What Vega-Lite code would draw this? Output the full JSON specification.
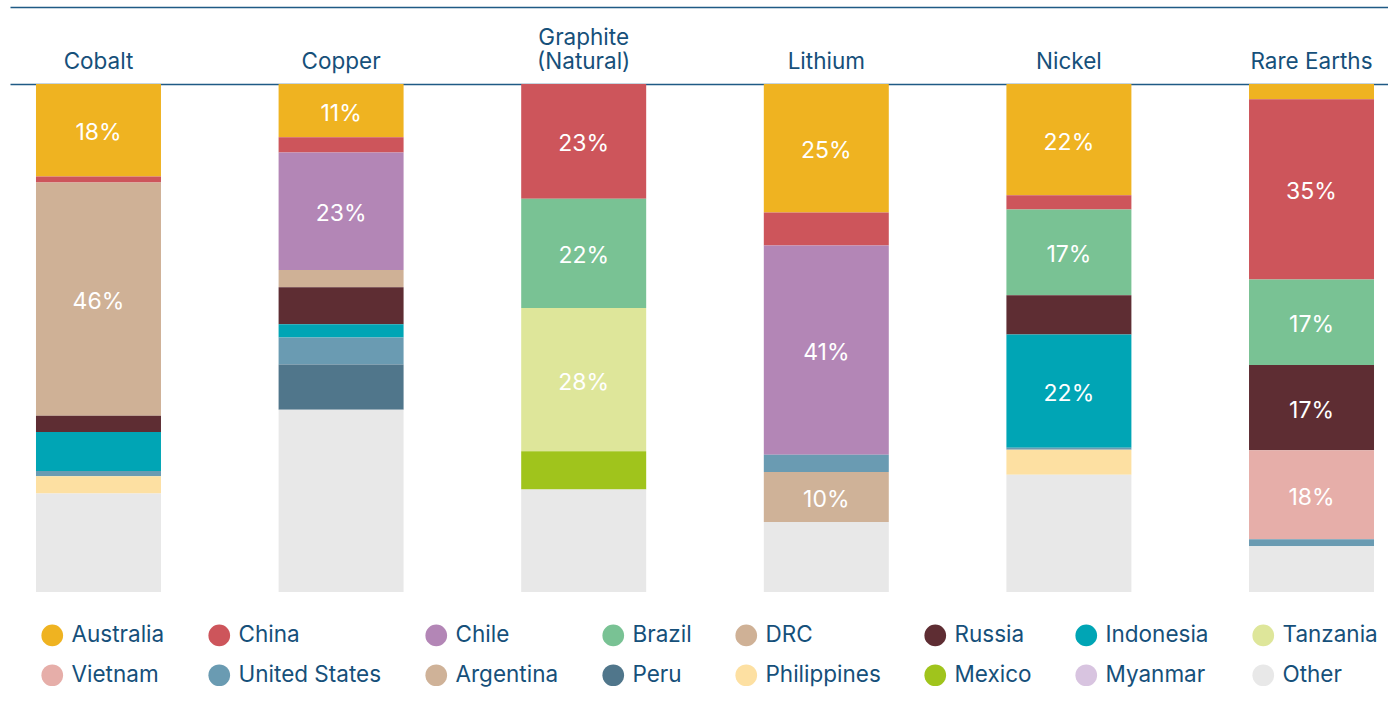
{
  "$schema": "https://vega.github.io/schema/vega-lite/v6.json",
  "autosize": "none",
  "width": 1378,
  "height": 508,
  "padding": {"left": 10, "top": 84, "right": 0, "bottom": 114},
  "background": "white",
  "config": {
    "view": {"stroke": null},
    "font": "Inter"
  },
  "data": {
    "values": [
      {"mineral": "Cobalt", "country": "Australia", "share": 18.2, "label": "18%"},
      {"mineral": "Cobalt", "country": "China", "share": 1.2, "label": ""},
      {"mineral": "Cobalt", "country": "DRC", "share": 45.9, "label": "46%"},
      {"mineral": "Cobalt", "country": "Russia", "share": 3.2, "label": ""},
      {"mineral": "Cobalt", "country": "Indonesia", "share": 7.7, "label": ""},
      {"mineral": "Cobalt", "country": "United States", "share": 1.0, "label": ""},
      {"mineral": "Cobalt", "country": "Philippines", "share": 3.4, "label": ""},
      {"mineral": "Cobalt", "country": "Other", "share": 19.4, "label": ""},
      {"mineral": "Copper", "country": "Australia", "share": 10.5, "label": "11%"},
      {"mineral": "Copper", "country": "China", "share": 3.0, "label": ""},
      {"mineral": "Copper", "country": "Chile", "share": 23.1, "label": "23%"},
      {"mineral": "Copper", "country": "DRC", "share": 3.4, "label": ""},
      {"mineral": "Copper", "country": "Russia", "share": 7.3, "label": ""},
      {"mineral": "Copper", "country": "Indonesia", "share": 2.6, "label": ""},
      {"mineral": "Copper", "country": "United States", "share": 5.3, "label": ""},
      {"mineral": "Copper", "country": "Peru", "share": 8.9, "label": ""},
      {"mineral": "Copper", "country": "Other", "share": 35.9, "label": ""},
      {"mineral": "Graphite (Natural)", "country": "China", "share": 22.6, "label": "23%"},
      {"mineral": "Graphite (Natural)", "country": "Brazil", "share": 21.5, "label": "22%"},
      {"mineral": "Graphite (Natural)", "country": "Tanzania", "share": 28.2, "label": "28%"},
      {"mineral": "Graphite (Natural)", "country": "Mexico", "share": 7.5, "label": ""},
      {"mineral": "Graphite (Natural)", "country": "Other", "share": 20.2, "label": ""},
      {"mineral": "Lithium", "country": "Australia", "share": 25.3, "label": "25%"},
      {"mineral": "Lithium", "country": "China", "share": 6.5, "label": ""},
      {"mineral": "Lithium", "country": "Chile", "share": 41.2, "label": "41%"},
      {"mineral": "Lithium", "country": "United States", "share": 3.4, "label": ""},
      {"mineral": "Lithium", "country": "Argentina", "share": 9.8, "label": "10%"},
      {"mineral": "Lithium", "country": "Other", "share": 13.8, "label": ""},
      {"mineral": "Nickel", "country": "Australia", "share": 21.9, "label": "22%"},
      {"mineral": "Nickel", "country": "China", "share": 2.8, "label": ""},
      {"mineral": "Nickel", "country": "Brazil", "share": 16.9, "label": "17%"},
      {"mineral": "Nickel", "country": "Russia", "share": 7.7, "label": ""},
      {"mineral": "Nickel", "country": "Indonesia", "share": 22.3, "label": "22%"},
      {"mineral": "Nickel", "country": "United States", "share": 0.4, "label": ""},
      {"mineral": "Nickel", "country": "Philippines", "share": 4.9, "label": ""},
      {"mineral": "Nickel", "country": "Other", "share": 23.1, "label": ""},
      {"mineral": "Rare Earths", "country": "Australia", "share": 3.0, "label": ""},
      {"mineral": "Rare Earths", "country": "China", "share": 35.5, "label": "35%"},
      {"mineral": "Rare Earths", "country": "Brazil", "share": 16.8, "label": "17%"},
      {"mineral": "Rare Earths", "country": "Russia", "share": 16.8, "label": "17%"},
      {"mineral": "Rare Earths", "country": "Vietnam", "share": 17.5, "label": "18%"},
      {"mineral": "Rare Earths", "country": "United States", "share": 1.4, "label": ""},
      {"mineral": "Rare Earths", "country": "Other", "share": 9.0, "label": ""}
    ]
  },
  "transform": [
    {"calculate": "indexof(['Australia', 'China', 'Chile', 'Brazil', 'DRC', 'Russia', 'Indonesia', 'Tanzania', 'Vietnam', 'United States', 'Argentina', 'Peru', 'Philippines', 'Mexico', 'Myanmar', 'Other'], datum.country)", "as": "rank"},
    {"stack": "share", "groupby": ["mineral"], "sort": [{"field": "rank", "order": "ascending"}], "offset": "normalize", "as": ["y0", "y1"]},
    {"calculate": "(datum.y0 + datum.y1) / 2", "as": "ymid"}
  ],
  "encoding": {
    "x": {
      "field": "mineral",
      "type": "nominal",
      "sort": null,
      "scale": {"paddingInner": 0.4848, "paddingOuter": 0.0824, "align": 0.65},
      "title": null
    }
  },
  "layer": [
    {
      "mark": {"type": "bar"},
      "encoding": {
        "x": {
          "field": "mineral",
          "type": "nominal",
          "sort": null,
          "title": null,
          "axis": {
            "orient": "top",
            "ticks": false,
            "labelAngle": 0,
            "labelPadding": 35,
            "labelBaseline": "line-bottom",
            "labelFont": "Inter",
            "labelFontSize": 22.5,
            "labelColor": "#16507A",
            "labelLineHeight": 24,
            "labelExpr": "datum.label == 'Graphite (Natural)' ? ['Graphite', '(Natural)'] : ['', datum.label]",
            "domainColor": "#1F5A85",
            "domainWidth": 1.5
          }
        },
        "y": {
          "field": "y0",
          "type": "quantitative",
          "scale": {"reverse": true, "domain": [0, 1]},
          "axis": null
        },
        "y2": {"field": "y1"},
        "color": {
          "field": "country",
          "type": "nominal",
          "scale": {
            "domain": ["Australia", "China", "Chile", "Brazil", "DRC", "Russia", "Indonesia", "Tanzania", "Vietnam", "United States", "Argentina", "Peru", "Philippines", "Mexico", "Myanmar", "Other"],
            "range": ["#EFB321", "#CD555B", "#B386B6", "#79C294", "#CFB196", "#5E2D33", "#00A5B5", "#DEE69A", "#E6AEA9", "#6A9BB2", "#CFB298", "#50768B", "#FDE0A2", "#A0C41C", "#D8C4E0", "#E8E8E8"]
          },
          "legend": {
            "title": null,
            "orient": "none",
            "legendX": 31,
            "legendY": 540,
            "direction": "horizontal",
            "columns": 8,
            "symbolType": "circle",
            "symbolSize": 470,
            "symbolStrokeWidth": 0,
            "symbolOpacity": 1,
            "labelFont": "Inter",
            "labelFontSize": 22.5,
            "labelColor": "#16507A",
            "labelOffset": 8,
            "columnPadding": 43,
            "rowPadding": 17,
            "labelLimit": 300
          }
        }
      }
    },
    {
      "mark": {"type": "text", "color": "white", "font": "Inter", "fontSize": 23, "dy": 3},
      "encoding": {
        "text": {"field": "label"},
        "y": {"field": "ymid", "type": "quantitative"},
        "x": {
          "field": "mineral",
          "type": "nominal",
          "sort": null,
          "title": null,
          "axis": {
            "orient": "top",
            "offset": 77,
            "ticks": false,
            "labels": false,
            "domainColor": "#1F5A85",
            "domainWidth": 1.5
          }
        }
      }
    }
  ],
  "resolve": {"axis": {"x": "independent"}}
}
